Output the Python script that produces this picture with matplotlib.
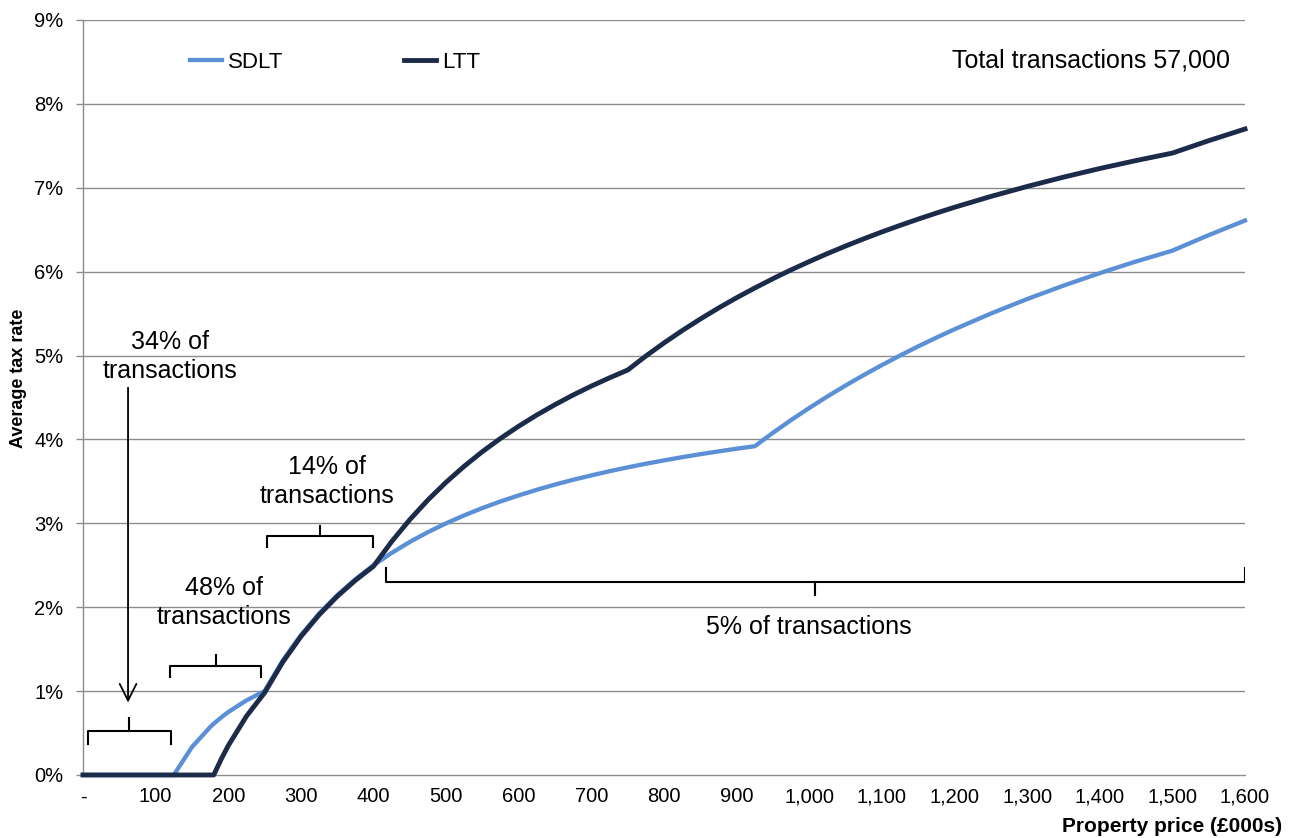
import matplotlib
matplotlib.use('Agg')
import matplotlib.pyplot as plt
from matplotlib.ticker import FixedLocator

plt.rcParams['font.family'] = ['Liberation Sans', 'DejaVu Sans']

# property price (£000s) and average tax rate (%)
price = [0, 50, 100, 125, 150, 175, 180, 190, 200, 225, 250, 275, 300, 325, 350, 375,
         400, 425, 450, 475, 500, 525, 550, 575, 600, 625, 650, 675, 700, 725, 750, 775,
         800, 825, 850, 875, 900, 925, 950, 975, 1000, 1025, 1050, 1075, 1100, 1125,
         1150, 1175, 1200, 1250, 1300, 1350, 1400, 1450, 1500, 1550, 1600]
sdlt = [0, 0, 0, 0, 0.333, 0.571, 0.611, 0.684, 0.75, 0.889, 1.0, 1.364, 1.667, 1.923,
        2.143, 2.333, 2.5, 2.647, 2.778, 2.895, 3.0, 3.095, 3.182, 3.261, 3.333, 3.4,
        3.462, 3.519, 3.571, 3.621, 3.667, 3.71, 3.75, 3.788, 3.824, 3.857, 3.889, 3.919,
        4.079, 4.231, 4.375, 4.512, 4.643, 4.767, 4.886, 5.0, 5.109, 5.213, 5.313, 5.5,
        5.673, 5.833, 5.982, 6.121, 6.25, 6.435, 6.609]
ltt = [0, 0, 0, 0, 0, 0, 0, 0.184, 0.35, 0.7, 0.98, 1.345, 1.65, 1.908, 2.129, 2.32,
       2.488, 2.782, 3.044, 3.279, 3.49, 3.681, 3.855, 4.013, 4.158, 4.292, 4.415, 4.53,
       4.636, 4.734, 4.827, 4.994, 5.15, 5.297, 5.435, 5.566, 5.689, 5.805, 5.916, 6.021,
       6.12, 6.215, 6.305, 6.391, 6.473, 6.551, 6.626, 6.698, 6.767, 6.896, 7.015, 7.126,
       7.229, 7.324, 7.413, 7.561, 7.7]

x_ticks = list(range(0, 1700, 100))
x_labels = ['-'] + [f'{v:,}' for v in x_ticks[1:]]
y_ticks = list(range(0, 10))
y_labels = [f'{v}%' for v in y_ticks]

fig = plt.figure(figsize=(12.95, 8.38), dpi=100)
ax = fig.add_axes([0.0641, 0.0752, 0.8973, 0.9010])

grid_c = '#8c8c8c'
for yv in y_ticks[1:]:
    ax.axhline(yv, color=grid_c, lw=1, zorder=1)

ax.plot(price, sdlt, color='#5b8fd6', lw=3.1, label='SDLT', clip_on=False, zorder=3,
        solid_joinstyle='round')
ax.plot(price, ltt, color='#1c2b4a', lw=3.5, label='LTT', clip_on=False, zorder=4,
        solid_joinstyle='round')

ax.set_xlim(0, 1600)
ax.set_ylim(0, 9)
ax.xaxis.set_major_locator(FixedLocator(x_ticks))
ax.set_xticklabels(x_labels)
ax.yaxis.set_major_locator(FixedLocator(y_ticks))
ax.set_yticklabels(y_labels)
ax.tick_params(axis='x', length=0, pad=9, labelsize=14.5)
ax.tick_params(axis='y', length=5, width=1, color=grid_c, pad=9, labelsize=14.5)

for s in ['top', 'right']:
    ax.spines[s].set_visible(False)
for s in ['left', 'bottom']:
    ax.spines[s].set_color(grid_c)
    ax.spines[s].set_linewidth(1)

leg = ax.legend(loc='center left', bbox_to_anchor=(0.092, 0.944), ncol=2, frameon=False,
                borderaxespad=0, borderpad=0, handlelength=1.45, handletextpad=0.28,
                columnspacing=5.4, prop={'size': 16})

fig.text(0.014, 0.549, 'Average tax rate', rotation=90, ha='center', va='center',
         fontsize=13, fontweight='bold')
fig.text(0.990, 0.0143, 'Property price (£000s)', ha='right', va='center',
         fontsize=15, fontweight='bold')

ann = dict(fontsize=18, ha='center', va='center', linespacing=1.25, zorder=5)
ax.text(120, 4.99, '34% of\ntransactions', **ann)
ax.text(194, 2.06, '48% of\ntransactions', **ann)
ax.text(336, 3.50, '14% of\ntransactions', **ann)
ax.text(999, 1.76, '5% of transactions', **ann)
ax.text(1580, 8.52, 'Total transactions 57,000', fontsize=18, ha='right', va='center')


def bracket(x0, x1, y, h, tip):
    xm = (x0 + x1) / 2
    ax.plot([x0, x0, x1, x1], [y - h, y, y, y - h], color='black', lw=1.5, zorder=5,
            solid_joinstyle='round')
    ax.plot([xm, xm], [y, y + tip], color='black', lw=1.5, zorder=5)


bracket(7, 121, 0.525, 0.155, 0.155)
bracket(120, 245, 1.30, 0.13, 0.13)
bracket(253, 399, 2.85, 0.13, 0.12)
bracket(417, 1600, 2.30, -0.17, -0.15)

ax.annotate('', xy=(62, 0.83), xytext=(62, 4.65),
            arrowprops=dict(arrowstyle='->', color='black', lw=1.3, mutation_scale=30))

fig.savefig('out.png', dpi=100)
